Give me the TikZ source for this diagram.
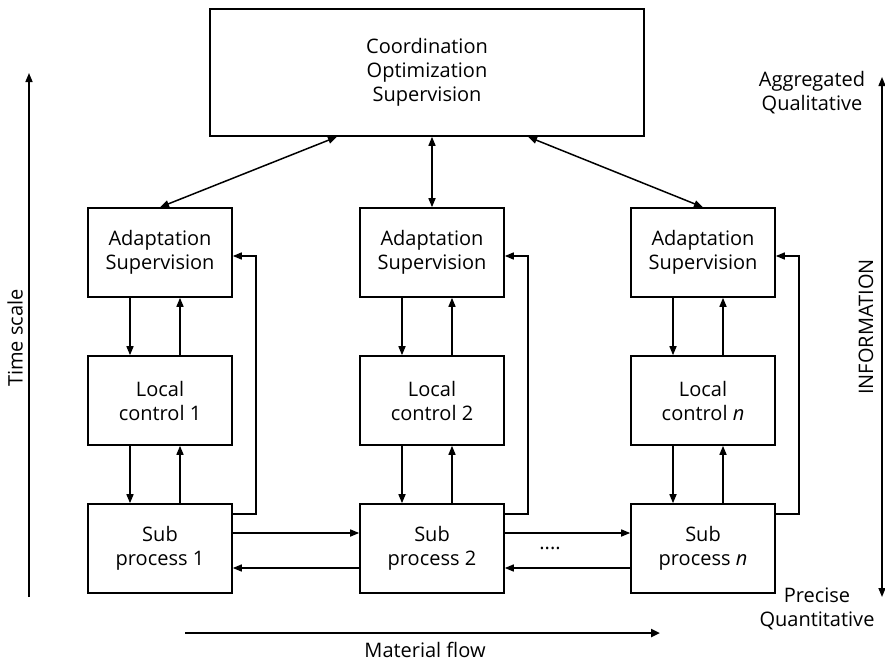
\documentclass[tikz,border=0pt]{standalone}
\usepackage{fontspec}
\setmainfont{Open Sans}
\usetikzlibrary{arrows.meta}

\begin{document}
\begin{tikzpicture}[x=1pt, y=-1pt, line width=1.5pt,
  font=\fontsize{20}{24}\selectfont,
  block/.style={draw, line width=1.6pt, minimum width=144pt, minimum height=89pt, align=center},
  link/.style={-{Triangle[length=9pt,width=7pt]}},
  both/.style={{Triangle[length=9pt,width=7pt]}-{Triangle[length=9pt,width=7pt]}}]
\useasboundingbox (0,0) rectangle (885,661);

\node[block, minimum width=434pt, minimum height=127pt] (top) at (427,72.5) {Coordination\\Optimization\\Supervision};

% one column per sub process
\foreach \c/\x/\n in {1/160/1, 2/432/2, n/703/\textit{n}} {
    \node[block] (adapt\c) at (\x,252.5) {Adaptation\\Supervision};
    \node[block] (local\c) at (\x,400.5) {Local\\control \n};
    \node[block] (sub\c) at (\x,548.5) {Sub\\process \n};
    \draw[link] ([xshift=-30pt]adapt\c.south) -- ([xshift=-30pt]local\c.north);
    \draw[link] ([xshift=20pt]local\c.north) -- ([xshift=20pt]adapt\c.south);
    \draw[link] ([xshift=-30pt]local\c.south) -- ([xshift=-30pt]sub\c.north);
    \draw[link] ([xshift=20pt]sub\c.north) -- ([xshift=20pt]local\c.south);
    \draw[link] ([yshift=34.5pt]sub\c.east) -- ++(23,0) |- ([yshift=-3.5pt]adapt\c.east);
}

\draw[both] ([xshift=-90pt]top.south) -- (adapt1.north);
\draw[both] (top.south -| adapt2.north) -- (adapt2.north);
\draw[both] ([xshift=101pt]top.south) -- (adaptn.north);

\foreach \a/\b in {1/2, 2/n} {
    \draw[link] ([yshift=15.5pt]sub\a.east) -- ([yshift=15.5pt]sub\b.west);
    \draw[link] ([yshift=-19.5pt]sub\b.west) -- ([yshift=-19.5pt]sub\a.east);
}
\node (dots) at (550,548) {....};

% time scale on the left
\coordinate (tlow) at (29,597);
\coordinate (thigh) at (29,73);
\draw[link] (tlow) -- (thigh);
\node[rotate=90] (tscale) at (15,338) {Time scale};

% information on the right
\coordinate (ihigh) at (882,77);
\coordinate (ilow) at (882,597);
\draw[both] (ihigh) -- (ilow);
\node[rotate=90] (info) at (866,327) {INFORMATION};
\node[align=center] (aggr) at (812,93) {Aggregated\\Qualitative};
\node[align=center] (prec) at (817,609) {Precise\\Quantitative};

% material flow
\coordinate (mstart) at (185,633);
\coordinate (mend) at (660,633);
\draw[line width=2.5pt, -{Triangle[length=9pt,width=8pt]}] (mstart) -- (mend);
\node (mflow) at (425,650) {Material flow};

\end{tikzpicture}
\end{document}
